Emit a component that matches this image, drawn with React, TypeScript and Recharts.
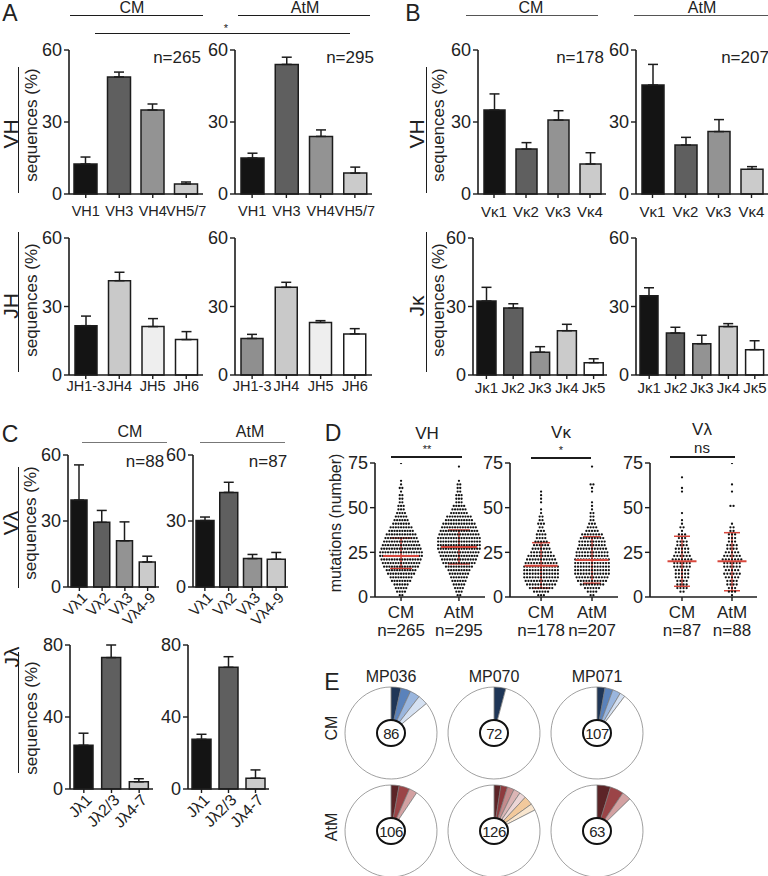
import React from "react";
import {
  BarChart,
  Bar,
  XAxis,
  YAxis,
  Cell,
  ErrorBar,
  ScatterChart,
  Scatter,
  PieChart,
  Pie,
} from "recharts";

const FONT = '"Liberation Sans", Arial, Helvetica, sans-serif';
const INK = "#1c1c1c";
const RED = "#d8473c";

// A: VH / JH usage (% of sequences, mean + SEM)
const vhGenes = ["VH1", "VH3", "VH4", "VH5/7"];
const vhCm = [12.5, 48.8, 35, 4.2];
const vhCmErr = [2.9, 2, 2.5, 0.8];
const vhAtm = [15, 54, 24, 8.7];
const vhAtmErr = [2, 3, 2.7, 2.5];
const jhGenes = ["JH1-3", "JH4", "JH5", "JH6"];
const jhCm = [21.6, 41.3, 21.2, 15.5];
const jhCmErr = [4.2, 3.7, 3.5, 3.5];
const jhAtm = [16, 38.4, 23, 18];
const jhAtmErr = [1.8, 2.2, 0.8, 2.3];

// B: Vκ / Jκ
const vkGenes = ["Vκ1", "Vκ2", "Vκ3", "Vκ4"];
const vkCm = [35, 18.7, 30.8, 12.5];
const vkCmErr = [6.7, 2.7, 3.9, 4.7];
const vkAtm = [45.4, 20.4, 26, 10.3];
const vkAtmErr = [8.6, 3.2, 5, 1.1];
const jkGenes = ["Jκ1", "Jκ2", "Jκ3", "Jκ4", "Jκ5"];
const jkCm = [32.4, 29.3, 10, 19.4, 5.4];
const jkCmErr = [6, 1.9, 2.4, 2.8, 1.7];
const jkAtm = [34.7, 18.4, 13.7, 21.2, 11.1];
const jkAtmErr = [3.5, 2.5, 3.7, 1.3, 3.9];

// C: Vλ / Jλ
const vlGenes = ["Vλ1", "Vλ2", "Vλ3", "Vλ4-9"];
const vlCm = [39.5, 29.4, 21, 11.4];
const vlCmErr = [16, 5.4, 8.6, 2.6];
const vlAtm = [30.2, 43, 12.9, 12.6];
const vlAtmErr = [1.6, 4.6, 1.9, 3.1];
const jlGenes = ["Jλ1", "Jλ2/3", "Jλ4-7"];
const jlCm = [24.3, 73, 4];
const jlCmErr = [6.7, 7, 1.7];
const jlAtm = [27.6, 67.6, 6];
const jlAtmErr = [2.8, 5.9, 4.6];

const grey4 = ["#141414", "#5f5f5f", "#939393", "#cbcbcb"];
const grey5 = ["#141414", "#5f5f5f", "#939393", "#cbcbcb", "#ffffff"];
const grey3 = ["#141414", "#5f5f5f", "#cbcbcb"];
const jhCmFill = ["#141414", "#c9c9c9", "#eeeeee", "#ffffff"];
const jhAtmFill = ["#8f8f8f", "#c9c9c9", "#eeeeee", "#ffffff"];

// D: mutation counts, sequences per 2-mutation bin (0-1, 2-3, ...)
const vhCmBins = [2, 4, 5, 6, 8, 9, 11, 12, 14, 15, 16, 17, 17, 16, 15, 14, 13, 12, 10, 9, 7, 6, 5, 4, 3, 3, 2, 2, 2, 1, 2, 1, 1, 0, 0, 0, 0, 1];
const vhAtmBins = [2, 3, 4, 5, 6, 7, 8, 9, 11, 13, 14, 15, 16, 17, 17, 17, 17, 16, 15, 14, 13, 11, 10, 7, 6, 5, 3, 3, 3, 2, 2, 2, 1, 0, 0, 0, 1];
const vkCmBins = [3, 6, 9, 11, 12, 13, 13, 13, 13, 12, 11, 10, 8, 7, 6, 5, 4, 4, 3, 2, 3, 2, 2, 1, 1, 0, 1, 1, 1, 1];
const vkAtmBins = [2, 4, 6, 9, 11, 12, 13, 13, 13, 13, 13, 12, 12, 11, 10, 10, 9, 8, 5, 4, 3, 2, 2, 2, 1, 1, 1, 0, 0, 1, 1, 2, 0, 0, 0, 0, 1];
const vlCmBins = [0, 2, 4, 4, 4, 5, 5, 5, 6, 6, 7, 6, 5, 5, 4, 4, 3, 3, 1, 2, 1, 1, 0, 1, 0, 0, 0, 0, 0, 1, 1, 0, 0, 1];
const vlAtmBins = [1, 3, 3, 4, 4, 5, 6, 5, 6, 6, 7, 6, 5, 4, 4, 3, 3, 3, 2, 2, 1, 0, 0, 0, 0, 2, 0, 0, 0, 1, 0, 1, 0, 0, 0, 0, 0, 1];
// median, lower, upper (red lines)
const vhStats = [[23, 16, 33], [28, 18.5, 37.5]];
const vkStats = [[17.5, 5, 30.4], [20.7, 7.7, 33.7]];
const vlStats = [[20, 6, 34], [20, 3.5, 36]];
const vhN = [265, 295];
const vkN = [178, 207];
const vlN = [87, 88];
const groupNames = ["CM", "AtM"];

// E: clonal expansions per donor
const donors = ["MP036", "MP070", "MP071"];
const cmTotals = [86, 72, 107];
const atmTotals = [106, 126, 63];
const cmClones = [[3, 3, 3, 3], [3], [3, 3, 3, 2]];
const atmClones = [[3, 4, 3], [3, 3, 3, 3, 3, 4, 3], [3, 3, 2]];
const blueShades = ["#1f3657", "#5a82bb", "#9ab6de", "#d5e1f2"];
const atmShades = [
  ["#5c2427", "#9b4447", "#d3a1a2"],
  ["#5c2427", "#8f3b3e", "#c48b8c", "#dbb5b5", "#ecd6d6", "#f2c99c", "#f9e6cf"],
  ["#5c2427", "#9b4447", "#d3a1a2"],
];

function T({ x, y, size = 16, rot = 0, children }: any) {
  return (
    <div
      style={{
        position: "absolute",
        left: x,
        top: y,
        transform: `translate(-50%, -50%) rotate(${rot}deg)`,
        fontSize: size,
        lineHeight: 1,
        whiteSpace: "nowrap",
        color: "#222",
      }}
    >
      {children}
    </div>
  );
}

function HLine({ x1, x2, y, color = INK, w = 1 }: any) {
  return <div style={{ position: "absolute", left: x1, top: y, width: x2 - x1, height: w, background: color }} />;
}

function VLine({ x, y1, y2, color = INK, w = 1 }: any) {
  return <div style={{ position: "absolute", left: x, top: y1, width: w, height: y2 - y1, background: color }} />;
}

function SlantTick(props: any) {
  const { x, y, payload, size } = props;
  const ax = x + 5;
  const ay = y + 2;
  return (
    <text x={ax} y={ay} dy="0.35em" textAnchor="end" fontSize={size || 15} fill="#222" transform={`rotate(-45 ${ax} ${ay})`}>
      {payload.value}
    </text>
  );
}

function BarPanel({ x0, x1, yTop, yBot, names, values, errs, fills, yMax, ticks, barSize, rotate = false, gap = 8, labelSize = 15 }: any) {
  const yw = 44;
  const mt = 14;
  const mr = 6;
  const xh = rotate ? 64 : 34;
  const data = names.map((n: string, i: number) => ({ name: n, value: values[i], err: [0, errs[i]] }));
  return (
    <div style={{ position: "absolute", left: x0 - yw, top: yTop - mt }}>
      <BarChart width={x1 - x0 + yw + mr} height={yBot - yTop + mt + xh} data={data} margin={{ top: mt, right: mr, left: 0, bottom: 0 }}>
        <XAxis
          dataKey="name"
          height={xh}
          interval={0}
          axisLine={{ stroke: INK, strokeWidth: 1.6 }}
          tickLine={{ stroke: INK, strokeWidth: 1.4 }}
          tickSize={4}
          tickMargin={gap}
          tick={rotate ? <SlantTick size={labelSize} /> : { fontSize: labelSize, fill: "#222" }}
        />
        <YAxis
          width={yw}
          domain={[0, yMax]}
          ticks={ticks}
          interval={0}
          axisLine={{ stroke: INK, strokeWidth: 1.6 }}
          tickLine={{ stroke: INK, strokeWidth: 1.4 }}
          tickSize={5}
          tickMargin={2}
          tick={{ fontSize: 18, fill: "#222" }}
        />
        <Bar dataKey="value" barSize={barSize} stroke={INK} strokeWidth={1.5} isAnimationActive={false}>
          {fills.map((f: string, i: number) => (
            <Cell key={i} fill={f} />
          ))}
          <ErrorBar dataKey="err" width={5} stroke={INK} strokeWidth={1.5} direction="y" />
        </Bar>
      </BarChart>
    </div>
  );
}

function SwarmTick(props: any) {
  const { x, y, payload, ns } = props;
  const i = Math.round(payload.value) - 1;
  return (
    <text x={x} y={y} textAnchor="middle" fontSize={17} fill="#222">
      <tspan x={x} dy="0.85em">{groupNames[i]}</tspan>
      <tspan x={x} dy="1.05em">n={ns[i]}</tspan>
    </text>
  );
}

function SwarmPanel({ x0, x1, lo, hi, bins, stats, ns, gap, medW, capW }: any) {
  const yTop = 463;
  const yBot = 597;
  const yw = 44;
  const mt = 14;
  const mr = 6;
  const xh = 44;
  const ppu = (x1 - x0) / (hi - lo);
  const dots: any[] = [];
  bins.forEach((counts: number[], g: number) => {
    counts.forEach((c, i) => {
      for (let j = 0; j < c; j++) {
        dots.push({ x: g + 1 + ((j - (c - 1) / 2) * gap) / ppu, y: i * 2 + 1 });
      }
    });
  });
  const medians = stats.map((s: number[], g: number) => ({ x: g + 1, y: s[0], err: [s[0] - s[1], s[2] - s[0]] }));
  return (
    <div style={{ position: "absolute", left: x0 - yw, top: yTop - mt }}>
      <ScatterChart width={x1 - x0 + yw + mr} height={yBot - yTop + mt + xh} margin={{ top: mt, right: mr, left: 0, bottom: 0 }}>
        <XAxis
          type="number"
          dataKey="x"
          domain={[lo, hi]}
          ticks={[1, 2]}
          allowDataOverflow
          height={xh}
          axisLine={{ stroke: INK, strokeWidth: 1.6 }}
          tickLine={{ stroke: INK, strokeWidth: 1.4 }}
          tickSize={4}
          tickMargin={3}
          tick={<SwarmTick ns={ns} />}
        />
        <YAxis
          type="number"
          dataKey="y"
          width={yw}
          domain={[0, 75]}
          ticks={[0, 25, 50, 75]}
          interval={0}
          allowDataOverflow
          axisLine={{ stroke: INK, strokeWidth: 1.6 }}
          tickLine={{ stroke: INK, strokeWidth: 1.4 }}
          tickSize={5}
          tickMargin={2}
          tick={{ fontSize: 18, fill: "#222" }}
        />
        <Scatter data={dots} isAnimationActive={false} shape={(p: any) => <circle cx={p.cx} cy={p.cy} r={1.15} fill="#111" />} />
        <Scatter
          data={medians}
          isAnimationActive={false}
          shape={(p: any) => <line x1={p.cx - medW / 2} x2={p.cx + medW / 2} y1={p.cy} y2={p.cy} stroke={RED} strokeWidth={2} />}
        >
          <ErrorBar dataKey="err" direction="y" width={capW / 2} stroke={RED} strokeWidth={1.5} />
        </Scatter>
      </ScatterChart>
    </div>
  );
}

function pieData(clones: number[], total: number) {
  const used = clones.reduce((a, b) => a + b, 0);
  return [...clones.map((v) => ({ v })), { v: total - used }];
}

export default function App() {
  const pieX = [391, 494, 597];
  const cmY = 733;
  const atmY = 831;
  const pl = 340;
  const pt = 670;
  return (
    <div
      style={{
        position: "absolute",
        left: 0,
        top: 0,
        width: 768,
        height: 876,
        background: "#fff",
        fontFamily: FONT,
        color: "#222",
        overflow: "hidden",
      }}
    >
      <style>{".recharts-surface{overflow:visible}"}</style>

      {/* Panel A */}
      <T x={10} y={13} size={23}>A</T>
      <T x={132} y={8}>CM</T>
      <HLine x1={70} x2={203} y={15} />
      <T x={305} y={8}>AtM</T>
      <HLine x1={238} x2={370} y={15} />
      <HLine x1={95} x2={350} y={33} />
      <T x={226} y={28} size={11}>*</T>
      <T x={177} y={57} size={17}>n=265</T>
      <T x={350} y={57} size={17}>n=295</T>
      <T x={10} y={134} size={21} rot={-90}>VH</T>
      <VLine x={18} y1={67} y2={193} />
      <T x={31} y={125} size={17} rot={-90}>sequences (%)</T>
      <T x={10} y={306} size={21} rot={-90}>JH</T>
      <VLine x={18} y1={232} y2={372} />
      <T x={31} y={300} size={17} rot={-90}>sequences (%)</T>
      <BarPanel x0={69} x1={203} yTop={50} yBot={194} names={vhGenes} values={vhCm} errs={vhCmErr} fills={grey4} yMax={60} ticks={[0, 30, 60]} barSize={23} labelSize={14.5} />
      <BarPanel x0={235} x1={372} yTop={50} yBot={194} names={vhGenes} values={vhAtm} errs={vhAtmErr} fills={grey4} yMax={60} ticks={[0, 30, 60]} barSize={23} labelSize={14.5} />
      <BarPanel x0={69} x1={203} yTop={238} yBot={375} names={jhGenes} values={jhCm} errs={jhCmErr} fills={jhCmFill} yMax={60} ticks={[0, 30, 60]} barSize={22} gap={2} labelSize={14.5} />
      <BarPanel x0={235} x1={372} yTop={238} yBot={375} names={jhGenes} values={jhAtm} errs={jhAtmErr} fills={jhAtmFill} yMax={60} ticks={[0, 30, 60]} barSize={22} gap={2} labelSize={14.5} />

      {/* Panel B */}
      <T x={413} y={13} size={23}>B</T>
      <T x={531} y={8}>CM</T>
      <HLine x1={466} x2={598} y={15} color="#555" />
      <T x={702} y={8}>AtM</T>
      <HLine x1={634} x2={768} y={15} color="#555" />
      <T x={580} y={57} size={17}>n=178</T>
      <T x={745} y={57} size={17}>n=207</T>
      <T x={416} y={134} size={21} rot={-90}>VH</T>
      <VLine x={426} y1={67} y2={193} />
      <T x={438} y={125} size={17} rot={-90}>sequences (%)</T>
      <T x={416} y={306} size={21} rot={-90}>Jκ</T>
      <VLine x={426} y1={232} y2={372} />
      <T x={438} y={300} size={17} rot={-90}>sequences (%)</T>
      <BarPanel x0={478} x1={606} yTop={50} yBot={194} names={vkGenes} values={vkCm} errs={vkCmErr} fills={grey4} yMax={60} ticks={[0, 30, 60]} barSize={21} />
      <BarPanel x0={636} x1={768} yTop={50} yBot={194} names={vkGenes} values={vkAtm} errs={vkAtmErr} fills={grey4} yMax={60} ticks={[0, 30, 60]} barSize={22} />
      <BarPanel x0={473} x1={607} yTop={238} yBot={375} names={jkGenes} values={jkCm} errs={jkCmErr} fills={grey5} yMax={60} ticks={[0, 30, 60]} barSize={19} gap={3} />
      <BarPanel x0={636} x1={768} yTop={238} yBot={375} names={jkGenes} values={jkAtm} errs={jkAtmErr} fills={grey5} yMax={60} ticks={[0, 30, 60]} barSize={18} gap={3} />

      {/* Panel C */}
      <T x={10} y={434} size={23}>C</T>
      <T x={130} y={432}>CM</T>
      <HLine x1={82} x2={167} y={442} color="#777" />
      <T x={250} y={432}>AtM</T>
      <HLine x1={200} x2={285} y={442} color="#777" />
      <T x={145} y={461} size={17}>n=88</T>
      <T x={268} y={461} size={17}>n=87</T>
      <T x={10} y={523} size={21} rot={-90}>Vλ</T>
      <VLine x={18} y1={467} y2={588} />
      <T x={30} y={523} size={17} rot={-90}>sequences (%)</T>
      <T x={11} y={657} size={21} rot={-90}>Jλ</T>
      <VLine x={18} y1={652} y2={773} />
      <T x={31} y={718} size={17} rot={-90}>sequences (%)</T>
      <BarPanel x0={68} x1={159} yTop={455} yBot={587} names={vlGenes} values={vlCm} errs={vlCmErr} fills={grey4} yMax={60} ticks={[0, 30, 60]} barSize={16} rotate gap={2} labelSize={15} />
      <BarPanel x0={193} x1={288} yTop={455} yBot={587} names={vlGenes} values={vlAtm} errs={vlAtmErr} fills={grey4} yMax={60} ticks={[0, 30, 60]} barSize={18} rotate gap={2} labelSize={15} />
      <BarPanel x0={70} x1={153} yTop={645} yBot={789} names={jlGenes} values={jlCm} errs={jlCmErr} fills={grey3} yMax={80} ticks={[0, 40, 80]} barSize={19} rotate gap={2} labelSize={16} />
      <BarPanel x0={188} x1={269} yTop={645} yBot={789} names={jlGenes} values={jlAtm} errs={jlAtmErr} fills={grey3} yMax={80} ticks={[0, 40, 80]} barSize={19} rotate gap={2} labelSize={16} />

      {/* Panel D */}
      <T x={333} y={433} size={23}>D</T>
      <T x={336} y={523} size={16} rot={-90}>mutations (number)</T>
      <T x={427} y={433} size={17}>VH</T>
      <T x={427} y={449} size={11}>**</T>
      <HLine x1={391} x2={462} y={456} w={1.5} />
      <T x={561} y={432} size={17}>Vκ</T>
      <T x={561} y={450} size={11}>*</T>
      <HLine x1={531} x2={591} y={457} w={1.5} />
      <T x={702} y={429} size={17}>Vλ</T>
      <T x={702} y={447} size={15}>ns</T>
      <HLine x1={670} x2={735} y={456} w={1.5} />
      <SwarmPanel x0={375} x1={485} lo={0.55} hi={2.45} bins={[vhCmBins, vhAtmBins]} stats={vhStats} ns={vhN} gap={2.6} medW={36} capW={22} />
      <SwarmPanel x0={510} x1={618} lo={0.39} hi={2.51} bins={[vkCmBins, vkAtmBins]} stats={vkStats} ns={vkN} gap={2.8} medW={33} capW={18} />
      <SwarmPanel x0={650} x1={757} lo={0.36} hi={2.5} bins={[vlCmBins, vlAtmBins]} stats={vlStats} ns={vlN} gap={3.1} medW={29} capW={16} />

      {/* Panel E */}
      <T x={332} y={682} size={23}>E</T>
      <T x={332} y={728} size={16} rot={-90}>CM</T>
      <T x={332} y={827} size={16} rot={-90}>AtM</T>
      {donors.map((d, i) => (
        <T key={d} x={pieX[i]} y={677} size={16}>
          {d}
        </T>
      ))}
      <div style={{ position: "absolute", left: pl, top: pt }}>
        <PieChart width={310} height={210} margin={{ top: 0, right: 0, bottom: 0, left: 0 }}>
          {donors.map((d, i) => (
            <Pie
              key={"cm" + d}
              data={pieData(cmClones[i], cmTotals[i])}
              dataKey="v"
              cx={pieX[i] - pl}
              cy={cmY - pt}
              outerRadius={46}
              startAngle={90}
              endAngle={-270}
              stroke="#777"
              strokeWidth={0.7}
              isAnimationActive={false}
            >
              {pieData(cmClones[i], cmTotals[i]).map((_, k) => (
                <Cell key={k} fill={k < cmClones[i].length ? blueShades[k] : "#ffffff"} />
              ))}
            </Pie>
          ))}
          {donors.map((d, i) => (
            <Pie
              key={"atm" + d}
              data={pieData(atmClones[i], atmTotals[i])}
              dataKey="v"
              cx={pieX[i] - pl}
              cy={atmY - pt}
              outerRadius={46}
              startAngle={90}
              endAngle={-270}
              stroke="#777"
              strokeWidth={0.7}
              isAnimationActive={false}
            >
              {pieData(atmClones[i], atmTotals[i]).map((_, k) => (
                <Cell key={k} fill={k < atmClones[i].length ? atmShades[i][k] : "#ffffff"} />
              ))}
            </Pie>
          ))}
        </PieChart>
      </div>
      {donors.map((d, i) => (
        <React.Fragment key={"c" + d}>
          {[
            [cmY, cmTotals[i]],
            [atmY, atmTotals[i]],
          ].map(([cy, n]) => (
            <div
              key={cy}
              style={{
                position: "absolute",
                left: pieX[i] - 15,
                top: cy - 14,
                width: 26,
                height: 24,
                border: "2px solid #111",
                borderRadius: "50%",
                background: "#fff",
                display: "flex",
                alignItems: "center",
                justifyContent: "center",
                fontSize: 15,
                letterSpacing: -0.5,
              }}
            >
              {n}
            </div>
          ))}
        </React.Fragment>
      ))}
    </div>
  );
}
